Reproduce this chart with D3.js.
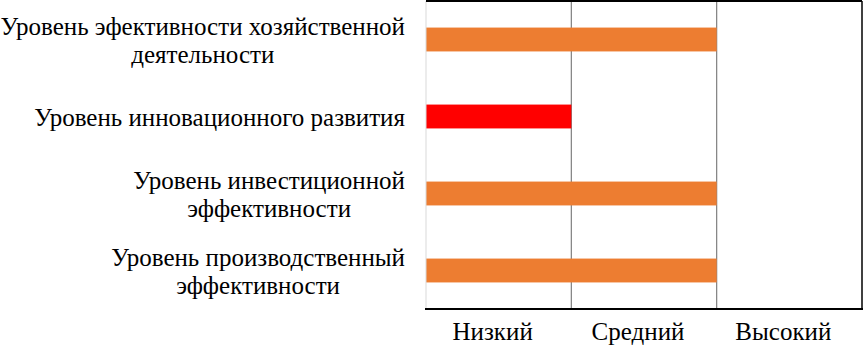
<!DOCTYPE html>
<html lang="ru">
<head>
<meta charset="utf-8">
<script src="https://cdn.jsdelivr.net/npm/d3@7"></script>
</head>
<body style="margin:0;background:#fff">
<svg id="chart" width="864" height="348"></svg>
<script>
// categories, top to bottom (lines of each label)
const categories = [
  ['Уровень эфективности хозяйственной', 'деятельности'],
  ['Уровень инновационного развития'],
  ['Уровень инвестиционной', 'эффективности'],
  ['Уровень производственный', 'эффективности']
]
// level reached: 1 = Низкий, 2 = Средний, 3 = Высокий
const values = [2, 1, 2, 2]
const barColors = ['#ED7D31', '#FF0000', '#ED7D31', '#ED7D31']
const levels = ['Низкий', 'Средний', 'Высокий']

const font = 'Times New Roman'
const fontSize = 25

const svg = d3.select('#chart')
const margin = { top: 1, right: 2, bottom: 39, left: 426 }
const width = +svg.attr('width')
const height = +svg.attr('height')
const innerWidth = width - margin.left - margin.right
const innerHeight = height - margin.top - margin.bottom

// scales work in page coordinates so texts can sit straight in the svg
const xScale = d3.scaleLinear()
  .domain([0, levels.length])
  .range([margin.left, margin.left + innerWidth])

const levelScale = d3.scaleBand()
  .domain(levels)
  .range(xScale.range())

const yScale = d3.scaleBand()
  .domain(d3.range(categories.length))
  .range([margin.top, margin.top + innerHeight])
  .paddingInner(0.69)
  .paddingOuter(0.345)

const [x0, x1] = xScale.range()
const [y0, y1] = yScale.range()

// vertical grid lines between levels
svg.selectAll('.grid')
  .data(d3.range(1, levels.length))
  .enter().append('line')
  .attr('x1', d => xScale(d))
  .attr('x2', d => xScale(d))
  .attr('y1', y0)
  .attr('y2', y1)
  .attr('stroke', '#7f7f7f')
  .attr('stroke-width', 1.2)

// bars
svg.selectAll('.bar')
  .data(values)
  .enter().append('rect')
  .attr('x', xScale(0))
  .attr('y', (d, i) => yScale(i))
  .attr('width', d => xScale(d) - xScale(0))
  .attr('height', yScale.bandwidth())
  .attr('fill', (d, i) => barColors[i])

// frame
svg.append('line')
  .attr('x1', x0).attr('x2', x0).attr('y1', y0).attr('y2', y1)
  .attr('stroke', '#d9d9d9')
svg.append('line')
  .attr('x1', x0).attr('x2', x1).attr('y1', y0).attr('y2', y0)
  .attr('stroke', '#000').attr('stroke-width', 2)
svg.append('line')
  .attr('x1', x1).attr('x2', x1).attr('y1', y0).attr('y2', y1)
  .attr('stroke', '#000').attr('stroke-width', 1.5)
svg.append('line')
  .attr('x1', x0 - 1).attr('x2', x1 + 1).attr('y1', y1).attr('y2', y1)
  .attr('stroke', '#000').attr('stroke-width', 2)

// level names centred under each band
svg.selectAll('.level')
  .data(levels)
  .enter().append('text')
  .attr('x', d => levelScale(d) + levelScale.bandwidth() / 2 - 6)
  .attr('y', y1 + 31)
  .attr('text-anchor', 'middle')
  .attr('font-family', font)
  .attr('font-size', fontSize)
  .attr('fill', '#000')
  .text(d => d)

// category labels: block right-aligned to the plot, lines centred in the block
const lineHeight = 28
const labelRight = x0 - 21
const lineTexts = svg.selectAll('.cat')
  .data(categories.flatMap((d, i) => d.map((line, j) => ({ line, j, n: d.length, i }))))
  .enter().append('text')
  .attr('y', d => yScale(d.i) + yScale.bandwidth() / 2 + 9 + (d.j - (d.n - 1) / 2) * lineHeight)
  .attr('text-anchor', 'middle')
  .attr('font-family', font)
  .attr('font-size', fontSize)
  .attr('fill', '#000')
  .text(d => d.line)

const blockWidth = d3.rollup(lineTexts.nodes(),
  nodes => d3.max(nodes, n => n.getComputedTextLength()),
  n => d3.select(n).datum().i)
lineTexts.attr('x', d => labelRight - blockWidth.get(d.i) / 2)
</script>
</body>
</html>
